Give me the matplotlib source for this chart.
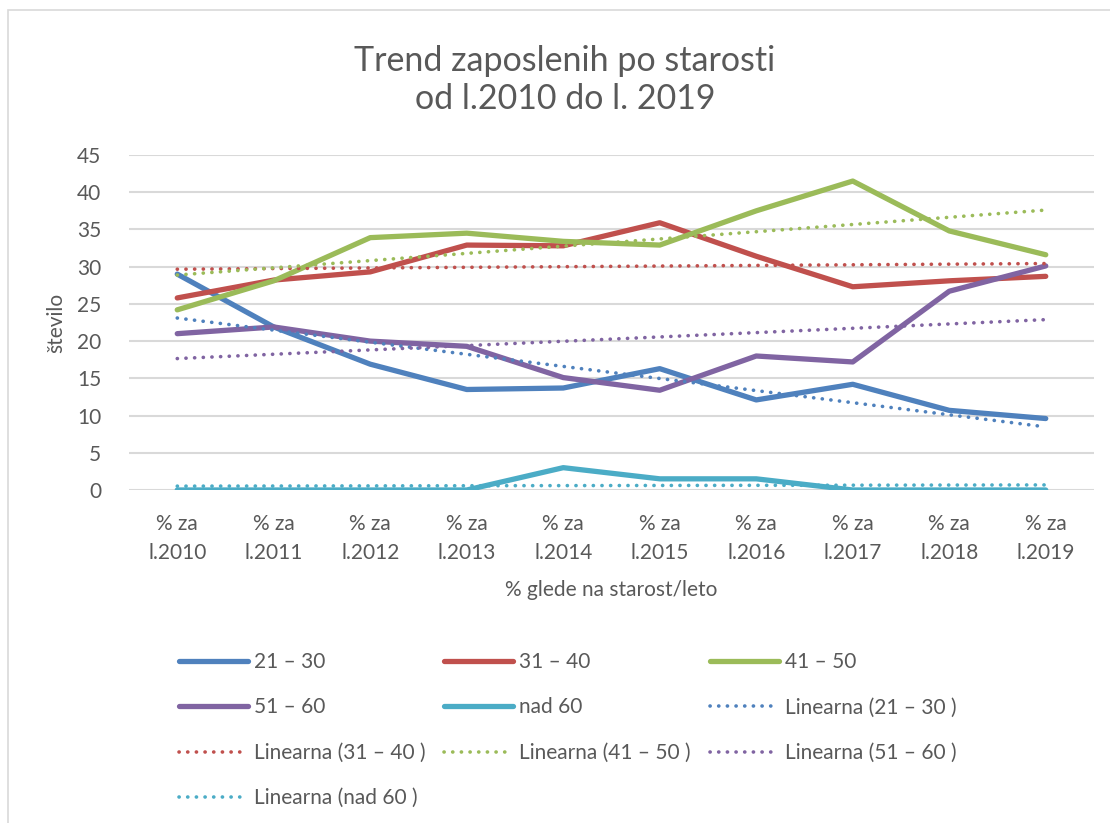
import matplotlib.pyplot as plt
import numpy as np
from matplotlib.patches import Rectangle

plt.rcParams['font.family'] = ['Lato', 'DejaVu Sans']

# categories
years = ['2010', '2011', '2012', '2013', '2014', '2015', '2016', '2017', '2018', '2019']
cat_labels = ['% za\nl.' + y for y in years]

# series values
s21_30 = [29.0, 21.9, 16.9, 13.5, 13.7, 16.3, 12.1, 14.2, 10.7, 9.6]
s31_40 = [25.8, 28.2, 29.3, 32.9, 32.8, 35.9, 31.4, 27.3, 28.1, 28.7]
s41_50 = [24.2, 28.1, 33.9, 34.5, 33.4, 32.9, 37.5, 41.5, 34.8, 31.6]
s51_60 = [21.0, 21.9, 20.0, 19.3, 15.1, 13.4, 18.0, 17.2, 26.7, 30.1]
s_nad60 = [0.0, 0.0, 0.0, 0.0, 3.0, 1.5, 1.5, 0.0, 0.0, 0.0]

names = ['21 – 30', '31 – 40', '41 – 50', '51 – 60', 'nad 60']
series = [s21_30, s31_40, s41_50, s51_60, s_nad60]
colors = ['#4F81BD', '#C0504D', '#9BBB59', '#8064A2', '#4BACC6']

txt = '#595959'
grid = '#D9D9D9'

fig = plt.figure(figsize=(11.1, 8.23), dpi=100)
ax = fig.add_axes([129 / 1110, 1 - 490 / 823, (1094 - 129) / 1110, (490 - 155) / 823])

x = np.arange(len(years))
handles = []

# main series
for vals, name, c in zip(series, names, colors):
    h, = ax.plot(x, vals, color=c, lw=3.8, label=name, solid_capstyle='round',
                 solid_joinstyle='round', zorder=3)
    handles.append(h)

# linear trend lines (least squares fit of each series)
for vals, name, c in zip(series, names, colors):
    k, b = np.polyfit(x, vals, 1)
    h, = ax.plot(x, k * x + b, color=c, lw=2.6, linestyle=(0, (0.05, 2.35)),
                 dash_capstyle='round', label='Linearna (' + name + ' )', zorder=4)
    handles.append(h)

# axes
ax.set_xlim(-0.5, len(years) - 0.5)
ax.set_ylim(0, 45)
ax.set_yticks(np.arange(0, 46, 5))
ax.set_xticks(x)
ax.set_xticklabels(cat_labels, linespacing=1.6)
ax.yaxis.grid(True, color=grid, lw=1.5)
ax.set_axisbelow(True)
for s in ax.spines.values():
    s.set_visible(False)
ax.tick_params(length=0, labelsize=15, colors=txt)
ax.tick_params(axis='y', pad=20)
ax.tick_params(axis='x', pad=17)
ax.set_ylabel('število', fontsize=15, color=txt, labelpad=8)
ax.set_xlabel('% glede na starost/leto', fontsize=15, color=txt, labelpad=12)

# title
fig.text(565 / 1110, 1 - 80 / 823, 'Trend zaposlenih po starosti\nod l.2010 do l. 2019',
         ha='center', va='center', fontsize=24.5, color=txt, linespacing=1.25)

# legend, ordered so that it reads row by row
order = [0, 3, 6, 9, 1, 4, 7, 2, 5, 8]
hs = [handles[i] for i in order]
leg = fig.legend(hs, [h.get_label() for h in hs], loc='upper left',
                 bbox_to_anchor=(179 / 1110, 1 - 652 / 823),
                 ncol=3, frameon=False, fontsize=15, handlelength=3.3,
                 handletextpad=0.3, columnspacing=0.9, labelspacing=1.22,
                 borderpad=0, borderaxespad=0)
for t in leg.get_texts():
    t.set_color(txt)

# chart border
fig.patches.append(Rectangle((8 / 1110, -0.1), 1.2, 1 - 10 / 823 + 0.1,
                             transform=fig.transFigure, fill=False,
                             edgecolor='#D9D9D9', lw=1.2))

fig.savefig('out.png', dpi=100, facecolor='white')
